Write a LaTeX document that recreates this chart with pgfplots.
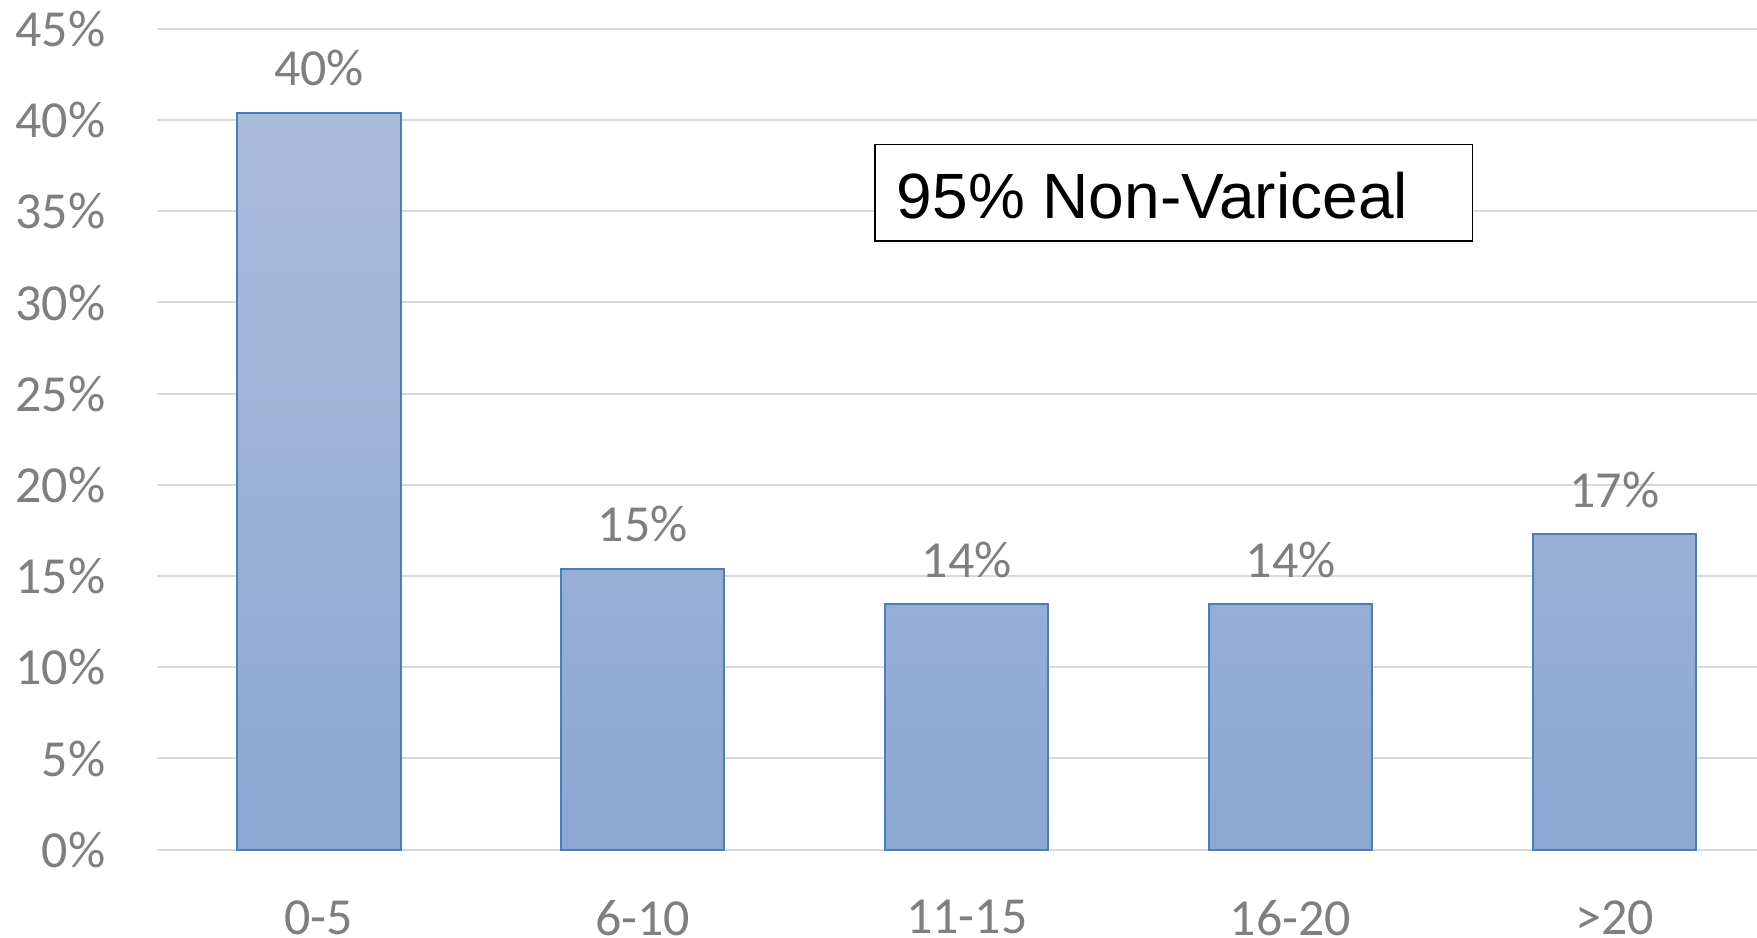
\documentclass[border=0pt]{standalone}
\usepackage{fontspec}
\setmainfont{Carlito}
\newfontfamily\arialfont{Liberation Sans}
\usepackage{pgfplots}
\pgfplotsset{compat=1.18}
\usepackage{pgfplotstable}
\definecolor{txtgray}{HTML}{7F7F7F}
\definecolor{gridgray}{HTML}{D9D9D9}
\definecolor{bartop}{HTML}{AABCDB}
\definecolor{barbot}{HTML}{8CA7D2}
\definecolor{barline}{HTML}{4A7EBB}
\pgfplotstableread{
x y lab
0 40.4 40\%
1 15.4 15\%
2 13.45 14\%
3 13.45 14\%
4 17.3 17\%
}\datatable
\begin{document}
\begin{tikzpicture}
\useasboundingbox (0,0) rectangle (439.25pt,234.5pt);
\begin{axis}[
  at={(39.25pt,22.075pt)}, anchor=south west,
  scale only axis, width=400pt, height=205.2pt,
  xmin=-0.5, xmax=4.44, ymin=0, ymax=45,
  enlargelimits=false,
  axis line style={draw=none},
  major tick length=0pt,
  ytick={0,5,...,45},
  yticklabel={\pgfmathparse{int(\tick)}\pgfmathresult\%},
  xtick=data,
  xticklabels={0-5,6-10,11-15,16-20,>20},
  /pgf/number format/assume math mode=true,
  ymajorgrids,
  grid style={gridgray, line width=0.5pt},
  ticklabel style={font=\fontsize{13}{15}\selectfont, text=txtgray},
  yticklabel style={inner sep=0pt, anchor=east, xshift=-12.75pt},
  xticklabel style={inner sep=0pt, anchor=north, yshift=-12.5pt},
  nodes near coords,
  point meta=explicit symbolic,
  every node near coord/.append style={font=\fontsize{13}{15}\selectfont, text=txtgray, inner sep=0pt, anchor=south, yshift=6.4pt},
  clip=false,
]
\addplot[ybar, bar width=40.8pt, draw=barline, line width=0.5pt, top color=bartop, bottom color=barbot] table[x=x, y=y, meta=lab] {\datatable};
\draw[black, line width=0.4pt, fill=white] (axis cs:1.716,33.38) rectangle (axis cs:3.562,38.66);
\node[anchor=base west, inner sep=0pt, font=\arialfont\fontsize{16}{19}\selectfont] at (axis cs:1.782,34.6) {95\% Non-Variceal};
\end{axis}
\end{tikzpicture}
\end{document}
